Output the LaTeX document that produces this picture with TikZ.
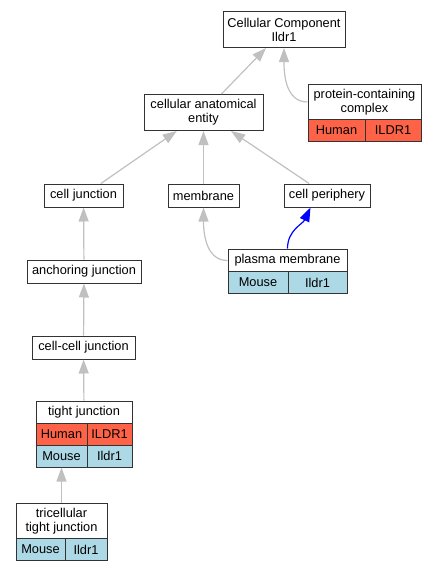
\documentclass[tikz,border=0pt]{standalone}
\usepackage{fontspec}
\setmainfont{Liberation Sans}
\usetikzlibrary{arrows.meta, calc}
\definecolor{humanRed}{RGB}{255,99,71}
\definecolor{mouseBlue}{RGB}{173,216,230}
\definecolor{edgeGray}{RGB}{192,192,192}

\begin{document}
\begin{tikzpicture}[x=1pt, y=-1pt]
        \tikzstyle{term} = [rectangle, draw=black!80, line width=1pt, fill=white, inner sep=0pt, align=center, minimum height=23pt, font=\fontsize{12.8}{14}\selectfont]
        \tikzstyle{twoline} = [term, minimum height=36pt]
        \tikzstyle{human} = [term, fill=humanRed, minimum height=21.5pt]
        \tikzstyle{mouse} = [term, fill=mouseBlue, minimum height=21.5pt]
        \tikzstyle{isa} = [-{Triangle[length=14pt, width=10pt]}, edgeGray, line width=1.2pt]
        \tikzstyle{partof} = [-{Triangle[length=14pt, width=10pt]}, blue, line width=1.2pt]

        \useasboundingbox (0,0) rectangle (436,571);

        % Top terms
        \node[twoline, minimum width=122pt] (cc) at (284,29.5) {Cellular Component\\Ildr1};
        \node[twoline, minimum width=113pt] (pcc) at (364.5,102) {protein-containing\\complex};
        \node[human, minimum width=57pt] (pccHuman) at (336.5,130.5) {Human};
        \node[human, minimum width=56pt] (pccGene) at (393,130.5) {ILDR1};
        \node[twoline, minimum width=119pt] (cae) at (203.5,112.5) {cellular anatomical\\entity};

        % Middle row
        \node[term, minimum width=79pt] (cj) at (83.5,195.5) {cell junction};
        \node[term, minimum width=71pt] (mem) at (203.5,195.5) {membrane};
        \node[term, minimum width=86pt] (cp) at (327,195.5) {cell periphery};

        % Plasma membrane
        \node[term, minimum width=119pt] (pm) at (287.5,260.5) {plasma membrane};
        \node[mouse, minimum width=60pt] (pmMouse) at (258,282.5) {Mouse};
        \node[mouse, minimum width=59pt] (pmGene) at (317.5,282.5) {Ildr1};

        % Junction chain
        \node[term, minimum width=114pt] (aj) at (84,271.5) {anchoring junction};
        \node[term, minimum width=103pt] (ccj) at (83.5,347.5) {cell-cell junction};
        \node[term, minimum width=96pt, minimum height=22pt] (tj) at (84,412) {tight junction};
        \node[human, minimum width=51pt, minimum height=22pt] (tjHuman) at (61.5,434) {Human};
        \node[human, minimum width=45pt, minimum height=22pt] (tjHumanGene) at (109.5,434) {ILDR1};
        \node[mouse, minimum width=51pt, minimum height=22pt] (tjMouse) at (61.5,456) {Mouse};
        \node[mouse, minimum width=45pt, minimum height=22pt] (tjMouseGene) at (109.5,456) {Ildr1};
        \node[twoline, minimum width=91pt] (ttj) at (61.5,521) {tricellular\\tight junction};
        \node[mouse, minimum width=49pt] (ttjMouse) at (40.5,549.5) {Mouse};
        \node[mouse, minimum width=42pt] (ttjGene) at (86,549.5) {Ildr1};

        % Edges
        \draw[isa] (cae) -- (cc);
        \draw[isa] (pcc.west) to[out=180, in=-90] (cc.south);
        \draw[isa] (cj) -- (cae);
        \draw[isa] (mem) -- (cae);
        \draw[isa] (cp) -- (cae);
        \draw[isa] (pm.west) to[out=180, in=-90] (mem.south);
        \draw[partof] (pm.north) to[out=90, in=-115] (cp.216);
        \draw[isa] (aj) -- (cj);
        \draw[isa] (ccj) -- (aj);
        \draw[isa] (tj) -- (ccj);
        \draw[isa] (ttj) -- (tjMouse);
    \end{tikzpicture}
\end{document}
